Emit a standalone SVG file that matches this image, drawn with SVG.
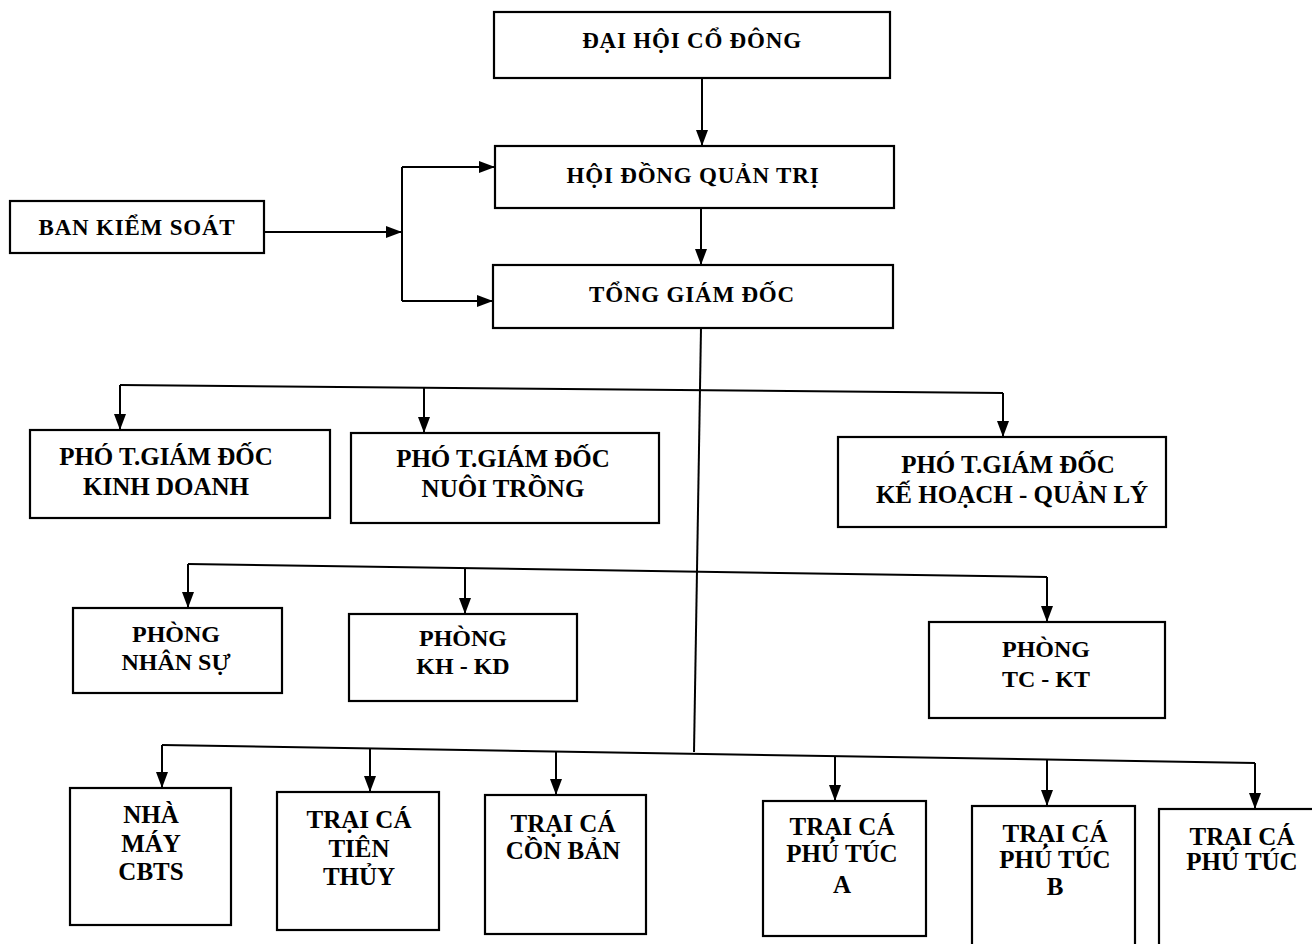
<svg xmlns="http://www.w3.org/2000/svg" width="1312" height="944" viewBox="0 0 1312 944">
<style>
.box{fill:#fff;stroke:#000;stroke-width:2.2}
.t{font-family:"Liberation Serif","Times New Roman",serif;font-weight:bold;fill:#000;text-anchor:middle}
.t1{font-size:23px;letter-spacing:0.8px}
.t2{font-size:25px}
.t3{font-size:24px}
.c{fill:none;stroke:#000;stroke-width:2}
</style>
<defs>
<marker id="ar" markerUnits="userSpaceOnUse" markerWidth="16" markerHeight="12" refX="16" refY="6" orient="auto">
<path d="M0,0 L16,6 L0,12 z" fill="#000"/>
</marker>
</defs>
<rect width="1312" height="944" fill="#fff"/>
<g id="connectors">
<path class="c" d="M702,78 V146" marker-end="url(#ar)"/>
<path class="c" d="M701,208 V265" marker-end="url(#ar)"/>
<path class="c" d="M264,232 H402" marker-end="url(#ar)"/>
<path class="c" d="M402,167 V301"/>
<path class="c" d="M402,167 H495" marker-end="url(#ar)"/>
<path class="c" d="M402,301 H493" marker-end="url(#ar)"/>
<path class="c" d="M701,328 L694,752"/>
<path class="c" d="M120,385 L1003,393"/>
<path class="c" d="M120,385 V430" marker-end="url(#ar)"/>
<path class="c" d="M424,388 V433" marker-end="url(#ar)"/>
<path class="c" d="M1003,393 V437" marker-end="url(#ar)"/>
<path class="c" d="M188,564 L1047,577"/>
<path class="c" d="M188,564 V608" marker-end="url(#ar)"/>
<path class="c" d="M465,568 V614" marker-end="url(#ar)"/>
<path class="c" d="M1047,577 V622" marker-end="url(#ar)"/>
<path class="c" d="M162,745 L1255,763"/>
<path class="c" d="M162,745 V788" marker-end="url(#ar)"/>
<path class="c" d="M370,749 V792" marker-end="url(#ar)"/>
<path class="c" d="M556,752 V795" marker-end="url(#ar)"/>
<path class="c" d="M835,756 V801" marker-end="url(#ar)"/>
<path class="c" d="M1047,760 V806" marker-end="url(#ar)"/>
<path class="c" d="M1255,763 V809" marker-end="url(#ar)"/>
</g>
<g id="dai-hoi-co-dong"><rect class="box" x="494" y="12" width="396" height="66"/><text class="t t1" x="692" y="48">ĐẠI HỘI CỔ ĐÔNG</text></g>
<g id="hoi-dong-quan-tri"><rect class="box" x="495" y="146" width="399" height="62"/><text class="t t1" x="693" y="183">HỘI ĐỒNG QUẢN TRỊ</text></g>
<g id="tong-giam-doc"><rect class="box" x="493" y="265" width="400" height="63"/><text class="t t1" x="692" y="302">TỔNG GIÁM ĐỐC</text></g>
<g id="ban-kiem-soat"><rect class="box" x="10" y="201" width="254" height="52"/><text class="t t1" x="137" y="235">BAN KIỂM SOÁT</text></g>
<g id="pho-kinh-doanh"><rect class="box" x="30" y="430" width="300" height="88"/><text class="t t2" x="166" y="465">PHÓ T.GIÁM ĐỐC</text><text class="t t2" x="166" y="495">KINH DOANH</text></g>
<g id="pho-nuoi-trong"><rect class="box" x="351" y="433" width="308" height="90"/><text class="t t2" x="503" y="467">PHÓ T.GIÁM ĐỐC</text><text class="t t2" x="503" y="497">NUÔI TRỒNG</text></g>
<g id="pho-ke-hoach"><rect class="box" x="838" y="437" width="328" height="90"/><text class="t t2" x="1008" y="473">PHÓ T.GIÁM ĐỐC</text><text class="t t2" x="1012" y="503">KẾ HOẠCH - QUẢN LÝ</text></g>
<g id="phong-nhan-su"><rect class="box" x="73" y="608" width="209" height="85"/><text class="t t3" x="176" y="642">PHÒNG</text><text class="t t3" x="176" y="670">NHÂN SỰ</text></g>
<g id="phong-kh-kd"><rect class="box" x="349" y="614" width="228" height="87"/><text class="t t3" x="463" y="646">PHÒNG</text><text class="t t3" x="463" y="674">KH - KD</text></g>
<g id="phong-tc-kt"><rect class="box" x="929" y="622" width="236" height="96"/><text class="t t3" x="1046" y="657">PHÒNG</text><text class="t t3" x="1046" y="687">TC - KT</text></g>
<g id="nha-may-cbts"><rect class="box" x="70" y="788" width="161" height="137"/><text class="t t2" x="151" y="823">NHÀ</text><text class="t t2" x="151" y="852">MÁY</text><text class="t t2" x="151" y="880">CBTS</text></g>
<g id="trai-ca-tien-thuy"><rect class="box" x="277" y="792" width="162" height="138"/><text class="t t2" x="359" y="828">TRẠI CÁ</text><text class="t t2" x="359" y="857">TIÊN</text><text class="t t2" x="359" y="885">THỦY</text></g>
<g id="trai-ca-con-ban"><rect class="box" x="485" y="795" width="161" height="139"/><text class="t t2" x="563" y="832">TRẠI CÁ</text><text class="t t2" x="563" y="859">CỒN BẢN</text></g>
<g id="trai-ca-phu-tuc-a"><rect class="box" x="763" y="801" width="163" height="135"/><text class="t t2" x="842" y="835">TRẠI CÁ</text><text class="t t2" x="842" y="862">PHÚ TÚC</text><text class="t t2" x="842" y="893">A</text></g>
<g id="trai-ca-phu-tuc-b"><rect class="box" x="972" y="806" width="163" height="140"/><text class="t t2" x="1055" y="842">TRẠI CÁ</text><text class="t t2" x="1055" y="868">PHÚ TÚC</text><text class="t t2" x="1055" y="895">B</text></g>
<g id="trai-ca-phu-tuc"><rect class="box" x="1159" y="809" width="160" height="137"/><text class="t t2" x="1242" y="845">TRẠI CÁ</text><text class="t t2" x="1242" y="870">PHÚ TÚC</text></g>
</svg>
